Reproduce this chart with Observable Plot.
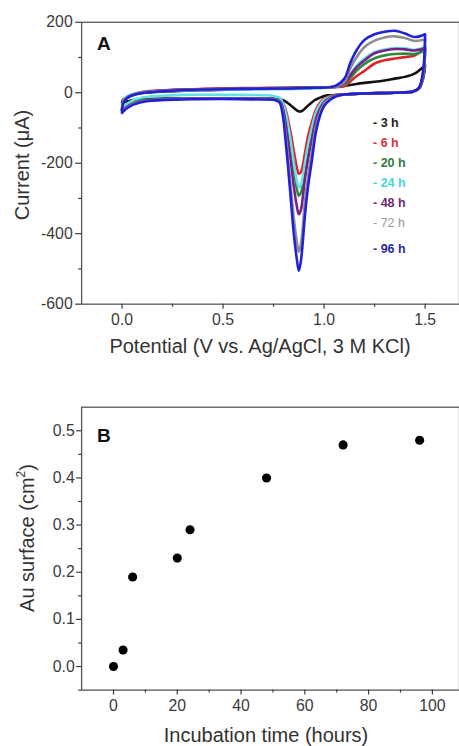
<!DOCTYPE html>
<html><head><meta charset="utf-8">
<script src="https://cdn.jsdelivr.net/npm/d3@7"></script>
<script src="https://cdn.jsdelivr.net/npm/@observablehq/plot@0.6"></script>
<style>
html,body{margin:0;padding:0;background:#fff;overflow:hidden;}
#wrap{position:relative;width:459px;height:746px;overflow:hidden;font-family:"Liberation Sans",Arial,sans-serif;color:#333;}
#wrap svg{position:absolute;left:0;}
.t{position:absolute;white-space:nowrap;line-height:1;}
</style></head><body><div id="wrap"></div>
<script>
// ---------- Panel A data (cyclic voltammograms) ----------
const seriesLabels = ["3 h", "6 h", "20 h", "24 h", "48 h", "72 h", "96 h"];
// forward (anodic) scan potentials, V
const potFwd = [0, 0.005, 0.02, 0.05, 0.1, 0.2, 0.4, 0.6, 0.8, 0.95, 1.05, 1.1, 1.13, 1.16, 1.2, 1.25, 1.3, 1.35, 1.4, 1.45, 1.5];
// reverse (cathodic) scan potentials, V
const potRev = [1.5, 1.49, 1.47, 1.44, 1.35, 1.2, 1.1, 1.06, 1.03, 1.0, 0.98, 0.96, 0.94, 0.92, 0.905, 0.895, 0.885, 0.875, 0.865, 0.85, 0.835, 0.82, 0.81, 0.80, 0.79, 0.78, 0.75, 0.7, 0.5, 0.3, 0.12, 0.06, 0.03, 0.01, 0];
// currents, µA
const fwd3h  = [-28, -20, -13, -6, -1, 3, 7, 10, 12, 14, 16, 20, 22, 25, 28, 31, 35, 40, 45, 55, 78];
const fwd6h  = [-48, -28, -15, -5, 2, 7, 11, 13, 14, 15, 16, 18, 32, 47, 62, 83, 92, 97, 101, 106, 128];
const fwd20h = [-48, -28, -15, -6, 1, 6, 10, 12, 13, 15, 17, 22, 42, 62, 82, 98, 106, 110, 111, 110, 120];
const fwd24h = [-45, -25, -12, -4, 1, 5, 8, 9, 10, 12, 16, 24, 52, 76, 97, 115, 123, 127, 126, 122, 130];
const fwd48h = [-50, -29, -16, -6, 0, 6, 10, 12, 13, 15, 17, 25, 50, 72, 92, 112, 120, 124, 123, 120, 126];
const fwd72h = [-52, -30, -17, -7, 0, 5, 9, 11, 12, 14, 17, 30, 70, 100, 130, 148, 157, 160, 155, 147, 151];
const fwd96h = [-57, -32, -18, -8, -1, 4, 9, 11, 12, 14, 18, 40, 85, 120, 150, 166, 173, 176, 168, 158, 166];
const rev3h  = [78, 40, 12, 3, 0, -2, -5, -6, -7, -9, -14, -19, -27, -37, -45, -50, -53, -53, -50, -43, -36, -29, -25, -22, -20, -19, -17, -17, -16, -16, -18, -21, -24, -26, -28];
const rev6h  = [128, 50, 12, 3, 0, -2, -5, -7, -10, -17, -28, -48, -82, -125, -172, -205, -226, -230, -212, -165, -115, -72, -48, -33, -25, -21, -18, -17, -16, -16, -21, -28, -35, -43, -48];
const rev20h = [120, 46, 12, 3, 0, -2, -5, -8, -12, -22, -36, -60, -105, -160, -215, -258, -284, -292, -272, -215, -150, -95, -62, -40, -28, -22, -18, -17, -16, -16, -21, -28, -36, -44, -48];
const rev24h = [130, 48, 12, 3, 0, -2, -5, -8, -12, -20, -33, -55, -98, -150, -200, -238, -262, -268, -250, -198, -138, -86, -56, -36, -22, -14, -9, -7, -6, -6, -12, -20, -30, -39, -45];
const rev48h = [126, 48, 12, 3, 0, -2, -5, -8, -14, -27, -45, -75, -130, -190, -245, -295, -333, -345, -322, -265, -195, -130, -88, -55, -33, -24, -18, -17, -16, -17, -22, -30, -38, -46, -50];
const rev72h = [151, 56, 14, 4, 0, -2, -5, -9, -16, -32, -55, -95, -165, -240, -310, -378, -430, -452, -422, -355, -265, -175, -120, -72, -40, -26, -19, -18, -17, -18, -23, -31, -40, -48, -52];
const rev96h = [166, 62, 15, 4, 0, -2, -5, -10, -20, -38, -65, -110, -190, -270, -350, -420, -478, -505, -472, -400, -300, -200, -140, -82, -46, -28, -20, -19, -18, -19, -24, -33, -42, -51, -57];
const yTicksA = [-600, -400, -200, 0, 200];
const yMinorA = [-500, -300, -100, 100];
const xTicksA = [0, 0.5, 1.0, 1.5];
const xMinorA = [0.25, 0.75, 1.25];

// ---------- Panel B data ----------
const hours = [0, 3, 6, 20, 24, 48, 72, 96];
const auSurface = [0, 0.035, 0.19, 0.23, 0.29, 0.40, 0.47, 0.48];
const yTicksB = [0, 0.1, 0.2, 0.3, 0.4, 0.5];
const yMinorB = [-0.05, 0.05, 0.15, 0.25, 0.35, 0.45];
const xTicksB = [0, 20, 40, 60, 80, 100];
const xMinorB = [10, 30, 50, 70, 90];

// ---------- styles / layout ----------
const lineColors = ["#111111", "#e0232a", "#2b8a3c", "#5fe3e3", "#7a1f86", "#8e8e8e", "#2020d8"];
const legendColors = ["#222222", "#d8343a", "#2f7d3c", "#45d6d6", "#6e2a78", "#9a9a9a", "#2b2ba8"];
const legendTop = [122.5, 142.7, 162.7, 182.7, 202.7, 222.7, 249.3];
const FONT = "'Liberation Sans', Arial, sans-serif";

const fwdAll = [fwd3h, fwd6h, fwd20h, fwd24h, fwd48h, fwd72h, fwd96h];
const revAll = [rev3h, rev6h, rev20h, rev24h, rev48h, rev72h, rev96h];
const cv = [];
seriesLabels.forEach((s, i) => {
  potFwd.forEach((E, j) => cv.push({series: s, E, I: fwdAll[i][j]}));
  potRev.forEach((E, j) => cv.push({series: s, E, I: revAll[i][j]}));
});
const pts = hours.map((h, i) => ({h, a: auSurface[i]}));

const wrap = document.getElementById("wrap");
const baseStyle = {fontFamily: FONT, fontSize: "16px", color: "#3a3a3a", background: "transparent", overflow: "visible"};
const blank = () => "";
const plain = d => String(d);

const plotA = Plot.plot({
  width: 464, height: 370,
  marginLeft: 82, marginRight: 0, marginTop: 22, marginBottom: 63,
  style: baseStyle,
  x: {domain: [-0.2, 1.67]},
  y: {domain: [-600, 200]},
  color: {domain: seriesLabels, range: lineColors},
  marks: [
    Plot.line(cv, {x: "E", y: "I", z: "series", stroke: "series", strokeWidth: 2.6, curve: "catmull-rom", strokeLinejoin: "round"}),
    Plot.frame({stroke: "#555", strokeWidth: 1.3}),
    Plot.axisY({ticks: yTicksA, tickSize: 6, tickPadding: 3, tickFormat: plain, label: null, strokeWidth: 1.2}),
    Plot.axisY({ticks: yMinorA, tickSize: 3, tickFormat: blank, label: null, strokeWidth: 1.2}),
    Plot.axisX({ticks: xTicksA, tickSize: 5, tickPadding: 5, tickFormat: d3.format(".1f"), label: null, strokeWidth: 1.2}),
    Plot.axisX({ticks: xMinorA, tickSize: 3, tickFormat: blank, label: null, strokeWidth: 1.2})
  ]
});
plotA.style.top = "0px";
wrap.appendChild(plotA);

const plotB = Plot.plot({
  width: 464, height: 366,
  marginLeft: 82, marginRight: 0, marginTop: 27, marginBottom: 53,
  style: baseStyle,
  x: {domain: [-10, 108.5]},
  y: {domain: [-0.05, 0.55]},
  marks: [
    Plot.dot(pts, {x: "h", y: "a", r: 4.6, fill: "#000", stroke: "none"}),
    Plot.frame({stroke: "#555", strokeWidth: 1.3}),
    Plot.axisY({ticks: yTicksB, tickSize: 5, tickPadding: 2, tickFormat: d3.format(".1f"), label: null, strokeWidth: 1.2}),
    Plot.axisY({ticks: yMinorB, tickSize: 3, tickFormat: blank, label: null, strokeWidth: 1.2}),
    Plot.axisX({ticks: xTicksB, tickSize: 5, tickPadding: 5, tickFormat: plain, label: null, strokeWidth: 1.2}),
    Plot.axisX({ticks: xMinorB, tickSize: 3, tickFormat: blank, label: null, strokeWidth: 1.2})
  ]
});
plotB.style.top = "380px";
wrap.appendChild(plotB);

function addText(html, css) {
  const d = document.createElement("div");
  d.className = "t";
  d.innerHTML = html;
  Object.assign(d.style, css);
  wrap.appendChild(d);
  return d;
}
// axis titles
addText("Potential (V vs. Ag/AgCl, 3 M KCl)", {left: "260px", top: "346px", fontSize: "20px", transform: "translate(-50%,-50%)"});
addText("Current (&mu;A)", {left: "22px", top: "165px", fontSize: "20px", transform: "translate(-50%,-50%) rotate(-90deg)"});
addText("Incubation time (hours)", {left: "266px", top: "735px", fontSize: "20px", transform: "translate(-50%,-50%)"});
addText("Au surface (cm<sup style='font-size:12px;vertical-align:9px'>2</sup>)", {left: "26px", top: "538px", fontSize: "20px", transform: "translate(-50%,-50%) rotate(-90deg)"});
// panel letters
addText("A", {left: "97px", top: "34px", fontSize: "19px", fontWeight: "bold", color: "#111"});
addText("B", {left: "97px", top: "426px", fontSize: "19px", fontWeight: "bold", color: "#111"});
// legend
seriesLabels.forEach((s, i) => {
  addText("- " + s, {left: "373px", top: legendTop[i] + "px", fontSize: "12.5px", fontWeight: i === 5 ? "normal" : "bold", color: legendColors[i], transform: "translateY(-50%)"});
});
</script></body></html>
